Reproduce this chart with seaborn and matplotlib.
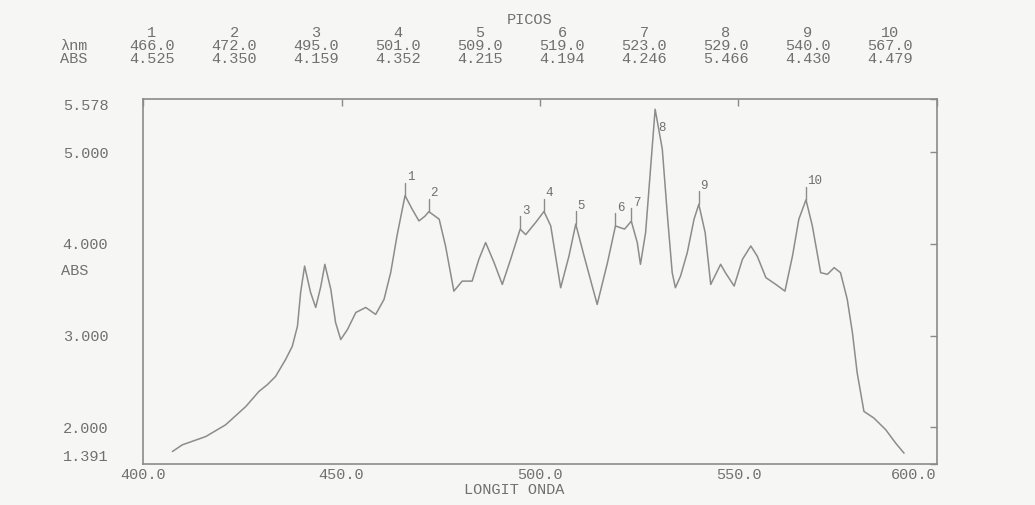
import numpy as np
import pandas as pd
import matplotlib
matplotlib.use("Agg")
import matplotlib.pyplot as plt
import seaborn as sns

# peak table (printed above the plot)
peak_no = [1, 2, 3, 4, 5, 6, 7, 8, 9, 10]
peak_nm = [466.0, 472.0, 495.0, 501.0, 509.0, 519.0, 523.0, 529.0, 540.0, 567.0]
peak_abs = [4.525, 4.350, 4.159, 4.352, 4.215, 4.194, 4.246, 5.466, 4.430, 4.479]

# spectrum
wavelength = [
    407.4, 409.9, 415.8, 420.8, 425.9, 429.2, 431.3, 433.4, 435.9, 437.6,
    438.9, 439.7, 440.7, 442.2, 443.5, 444.8, 445.8, 447.3, 448.5, 449.8,
    451.5, 453.6, 456.1, 458.6, 460.7, 462.4, 464.0, 466.0, 467.8, 469.5,
    471.0, 472.0, 474.6, 476.2, 478.3, 480.4, 482.9, 484.6, 486.3, 488.4,
    490.5, 492.6, 495.0, 496.4, 498.9, 501.0, 502.7, 505.2, 507.3, 509.0,
    511.1, 514.4, 517.0, 519.0, 521.3, 523.0, 524.5, 525.3, 526.6, 527.9,
    529.0, 530.8, 532.1, 533.3, 534.1, 535.4, 537.1, 538.8, 540.0, 541.6,
    543.0, 545.5, 546.7, 548.9, 551.0, 553.1, 554.7, 556.9, 559.4, 561.7,
    563.6, 565.2, 567.0, 568.6, 570.7, 572.4, 574.1, 575.7, 577.4, 578.7,
    579.9, 581.6, 584.1, 587.1, 589.6, 591.7,
]
absorbance = [
    1.736, 1.809, 1.899, 2.027, 2.227, 2.391, 2.464, 2.555, 2.738, 2.883,
    3.102, 3.470, 3.757, 3.470, 3.306, 3.539, 3.776, 3.503, 3.142, 2.956,
    3.066, 3.251, 3.306, 3.230, 3.393, 3.689, 4.093, 4.525, 4.377, 4.249,
    4.300, 4.350, 4.268, 3.976, 3.484, 3.593, 3.593, 3.831, 4.013, 3.798,
    3.557, 3.831, 4.159, 4.100, 4.232, 4.352, 4.195, 3.521, 3.867, 4.215,
    3.867, 3.339, 3.795, 4.194, 4.160, 4.246, 4.013, 3.776, 4.122, 4.850,
    5.466, 5.033, 4.304, 3.685, 3.521, 3.648, 3.904, 4.268, 4.430, 4.122,
    3.557, 3.776, 3.685, 3.539, 3.831, 3.976, 3.867, 3.631, 3.557, 3.484,
    3.867, 4.268, 4.479, 4.195, 3.685, 3.667, 3.740, 3.685, 3.393, 3.030,
    2.592, 2.173, 2.101, 1.973, 1.827, 1.718,
]

x_ticks = [400, 450, 500, 550, 600]
x_ticklabels = ["400.0", "450.0", "500.0", "550.0", "600.0"]
y_top = 5.578
y_bottom = 1.60
y_ticklabels = ["1.391", "2.000", "3.000", "4.000", "5.000", "5.578"]

ink = "#707070"
paper = "#f6f6f4"
mono = ["Liberation Mono", "DejaVu Sans Mono"]

sns.set_theme(style="white")
plt.rcParams["font.family"] = mono

df = pd.DataFrame({"nm": wavelength, "abs": absorbance})

fig = plt.figure(figsize=(10.35, 5.05), dpi=100, facecolor=paper)
ax = fig.add_axes([0.1382, 0.0812, 0.7671, 0.7228])
ax.set_facecolor(paper)

sns.lineplot(data=df, x="nm", y="abs", ax=ax, sort=False, estimator=None,
             color="#8c8c8c", linewidth=1.1)

# peak markers and numbers
for n, x, y in zip(peak_no, peak_nm, peak_abs):
    if n == 8:
        ax.text(x + 0.8, y - 0.2, str(n), fontsize=9, color=ink,
                ha="left", va="center", family=mono)
        continue
    ax.plot([x, x], [y, y + 0.14], color="#8c8c8c", linewidth=1.0)
    ax.text(x + 0.4, y + 0.2, str(n), fontsize=9, color=ink,
            ha="left", va="center", family=mono)

ax.set_xlim(400, 600)
ax.set_ylim(y_bottom, y_top)
ax.set_xticks(x_ticks)
ax.set_xticklabels(x_ticklabels)
ax.set_yticks([y_bottom, 2, 3, 4, 5, y_top])
ax.set_yticklabels(y_ticklabels)
ax.tick_params(axis="both", direction="in", length=5, width=1, color="#8a8a8a",
               labelcolor=ink, labelsize=11, top=True, right=True)
ax.tick_params(axis="x", pad=3)
ax.tick_params(axis="y", pad=25)
tl = ax.get_yticklabels()
tl[0].set_va("bottom")
tl[-1].set_va("top")
ax.get_xticklabels()[-1].set_ha("right")

for s in ax.spines.values():
    s.set_color("#8a8a8a")
    s.set_linewidth(1.2)

ax.set_xlabel("LONGIT ONDA", fontsize=11, color=ink, labelpad=0)
ax.xaxis.set_label_coords(0.468, -0.052)
ax.set_ylabel("")
ax.text(-0.103, 0.53, "ABS", transform=ax.transAxes, fontsize=11,
        color=ink, ha="left", va="center")

# header table
W, H = 1035, 505
fig.text(530 / W, 1 - 20 / H, "PICOS", fontsize=11, color=ink,
         ha="center", va="center")
fig.text(60 / W, 1 - 46 / H, "\u03bbnm", fontsize=11, color=ink,
         ha="left", va="center", family=mono)
fig.text(60 / W, 1 - 59 / H, "ABS", fontsize=11, color=ink,
         ha="left", va="center")
for i, (n, nm, a) in enumerate(zip(peak_no, peak_nm, peak_abs)):
    cx = (152 + i * 82) / W
    fig.text(cx, 1 - 33 / H, str(n), fontsize=11, color=ink, ha="center", va="center")
    fig.text(cx, 1 - 46 / H, f"{nm:.1f}", fontsize=11, color=ink, ha="center", va="center")
    fig.text(cx, 1 - 59 / H, f"{a:.3f}", fontsize=11, color=ink, ha="center", va="center")

fig.savefig("out.png", dpi=100, facecolor=paper)
